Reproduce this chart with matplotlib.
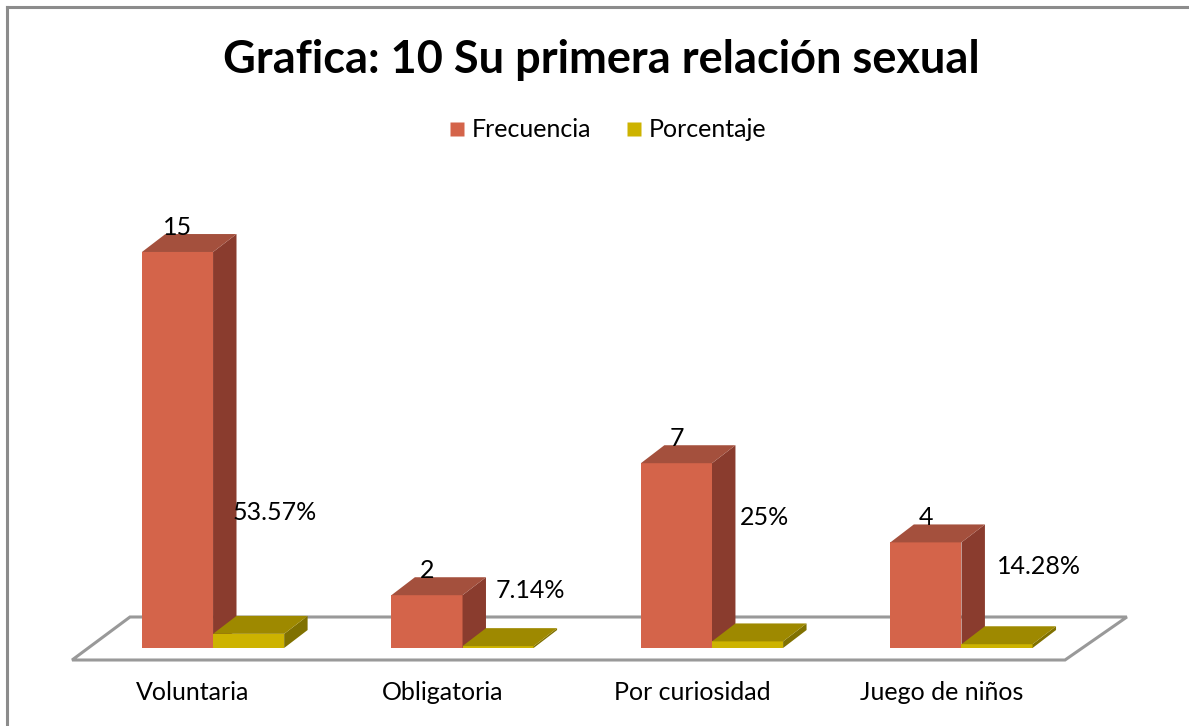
import numpy as np
import matplotlib.pyplot as plt
from matplotlib.patches import Polygon
from matplotlib.lines import Line2D

categorias = ['Voluntaria', 'Obligatoria', 'Por curiosidad', 'Juego de niños']
frecuencia = [15, 2, 7, 4]
porcentaje = [53.57, 7.14, 25, 14.28]
etiquetas_pct = ['53.57%', '7.14%', '25%', '14.28%']
# where excel put the percent labels (data units)
pct_label_pos = [(0.248, 5.15), (1.27, 2.16), (2.21, 4.96), (3.31, 3.1)]

titulo = 'Grafica: 10 Su primera relación sexual'

plt.rcParams['font.family'] = ['Lato', 'DejaVu Sans']

fig = plt.figure(figsize=(11.89, 7.26), dpi=100)
ax = fig.add_axes([0, 0, 1, 1])
ax.set_xlim(-0.854, 3.912)
ax.set_ylim(-2.955, 24.545)
ax.axis('off')

w = 0.285          # bar width (category units)
dx, dy = 0.094, 0.68   # depth offset

def bar3d(x0, h, front, side, top):
    ax.add_patch(Polygon([(x0, 0), (x0 + w, 0), (x0 + w, h), (x0, h)],
                         closed=True, fc=front, ec='none', zorder=3))
    ax.add_patch(Polygon([(x0 + w, 0), (x0 + w + dx, dy), (x0 + w + dx, h + dy), (x0 + w, h)],
                         closed=True, fc=side, ec='none', zorder=3))
    ax.add_patch(Polygon([(x0, h), (x0 + w, h), (x0 + w + dx, h + dy), (x0 + dx, h + dy)],
                         closed=True, fc=top, ec='none', zorder=3))

# floor
floor = Polygon([(-0.565, -0.455), (3.415, -0.455), (3.663, 1.174), (-0.333, 1.174)],
                closed=True, fc='white', ec='#999999', lw=2.2, zorder=1)
ax.add_patch(floor)

for i in range(len(categorias)):
    bar3d(i - w, frecuencia[i], '#D4644A', '#8A3C2E', '#A4503D')
    bar3d(i, porcentaje[i] / 100, '#CDB300', '#807100', '#9E8900')
    ax.text(i - w / 2, frecuencia[i] + 0.5, str(frecuencia[i]), ha='center', va='bottom',
            fontsize=18, color='black', zorder=4)
    px, py = pct_label_pos[i]
    ax.text(px, py, etiquetas_pct[i], ha='center', va='center', fontsize=18, zorder=4)
    ax.text(i - 0.08, -1.7, categorias[i], ha='center', va='center', fontsize=18)

fig.text(0.506, 0.917, titulo, ha='center', va='center', fontsize=32.5, fontweight='bold')

handles = [Line2D([], [], ls='none', marker='s', ms=10.5, mfc='#D4644A', mec='none'),
           Line2D([], [], ls='none', marker='s', ms=10.5, mfc='#CDB300', mec='none')]
fig.legend(handles, ['Frecuencia', 'Porcentaje'], loc='center', bbox_to_anchor=(0.509, 0.821),
           ncol=2, frameon=False, fontsize=18, handletextpad=0.1, columnspacing=1.2,
           handlelength=1.0)

# outer chart border (left and top only visible)
fig.add_artist(Line2D([0.0055, 0.0055], [0, 0.991], color='#8c8c8c', lw=2.2))
fig.add_artist(Line2D([0.0055, 1], [0.991, 0.991], color='#8c8c8c', lw=2.2))

fig.savefig('out.png', dpi=100)
